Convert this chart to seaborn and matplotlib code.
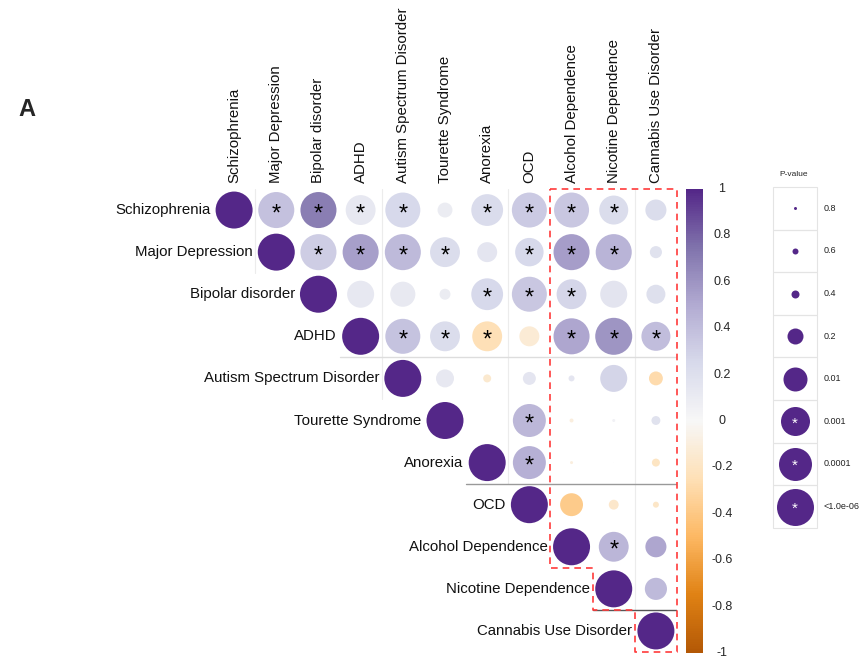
import numpy as np
import pandas as pd
import seaborn as sns
import matplotlib
matplotlib.use('Agg')
import matplotlib.pyplot as plt
from matplotlib.colors import LinearSegmentedColormap, Normalize
from matplotlib.cm import ScalarMappable
from matplotlib.patches import Rectangle

traits = ['Schizophrenia', 'Major Depression', 'Bipolar disorder', 'ADHD',
          'Autism Spectrum Disorder', 'Tourette Syndrome', 'Anorexia', 'OCD',
          'Alcohol Dependence', 'Nicotine Dependence', 'Cannabis Use Disorder']

nan = np.nan
# genetic correlations (upper triangle, row -> column)
corr_r = [
    [1, 0.38, 0.70, 0.13, 0.25, 0.10, 0.23, 0.33, 0.35, 0.22, 0.22],
    [nan, 1, 0.32, 0.55, 0.42, 0.22, 0.15, 0.25, 0.56, 0.45, 0.18],
    [nan, nan, 1, 0.13, 0.12, 0.10, 0.25, 0.35, 0.27, 0.16, 0.20],
    [nan, nan, nan, 1, 0.37, 0.22, -0.25, -0.13, 0.52, 0.60, 0.40],
    [nan, nan, nan, nan, 1, 0.13, -0.15, 0.15, 0.15, 0.28, -0.28],
    [nan, nan, nan, nan, nan, 1, 0.0, 0.43, -0.10, 0.05, 0.18],
    [nan, nan, nan, nan, nan, nan, 1, 0.47, -0.10, 0.0, -0.20],
    [nan, nan, nan, nan, nan, nan, nan, 1, -0.38, -0.17, -0.18],
    [nan, nan, nan, nan, nan, nan, nan, nan, 1, 0.44, 0.52],
    [nan, nan, nan, nan, nan, nan, nan, nan, nan, 1, 0.42],
    [nan, nan, nan, nan, nan, nan, nan, nan, nan, nan, 1],
]
# p-values of the correlations
corr_p = [
    [1e-8, 3e-6, 3e-6, 6e-4, 1e-5, 0.22, 2e-4, 1e-5, 1e-5, 1e-3, 0.03],
    [nan, 1e-8, 3e-6, 3e-6, 3e-6, 6e-4, 0.045, 1.3e-3, 3e-6, 3e-6, 0.28],
    [nan, nan, 1e-8, 0.0025, 0.006, 0.31, 2e-4, 1e-5, 6e-4, 0.0025, 0.065],
    [nan, nan, nan, 1e-8, 1e-5, 6e-4, 6e-4, 0.045, 3e-6, 1e-6, 1e-3],
    [nan, nan, nan, nan, 1e-8, 0.095, 0.4, 0.26, 0.6, 0.0025, 0.24],
    [nan, nan, nan, nan, nan, 1e-8, 1.0, 1e-4, 0.73, 0.8, 0.37],
    [nan, nan, nan, nan, nan, nan, 1e-8, 1e-4, 0.8, 0.97, 0.4],
    [nan, nan, nan, nan, nan, nan, nan, 1e-8, 0.015, 0.34, 0.6],
    [nan, nan, nan, nan, nan, nan, nan, nan, 1e-8, 6e-4, 0.03],
    [nan, nan, nan, nan, nan, nan, nan, nan, nan, 1e-8, 0.02],
    [nan, nan, nan, nan, nan, nan, nan, nan, nan, nan, 1e-8],
]
star_cut = 0.0015

legend_p = [0.8, 0.6, 0.4, 0.2, 0.01, 0.001, 0.0001, 1e-6]
legend_labels = ['0.8', '0.6', '0.4', '0.2', '0.01', '0.001', '0.0001', '<1.0e-06']
cbar_ticks = [1, 0.8, 0.6, 0.4, 0.2, 0, -0.2, -0.4, -0.6, -0.8, -1]

# size scale: -log10(p) -> circle diameter in pixels
scale_L = [0, 0.097, 0.222, 0.398, 0.699, 2, 3, 4, 6]
scale_d = [0, 3, 6, 8, 16, 24, 29, 33, 37]


def area(p):
    d = np.interp(-np.log10(p), scale_L, scale_d)
    return (d * 0.72) ** 2


cmap = LinearSegmentedColormap.from_list('puor', ['#b35806', '#e08214', '#fdb863', '#fee0b6', '#f7f7f7',
                                                  '#d8daeb', '#b2abd2', '#8073ac', '#542788'])

rows = []
for i in range(len(traits)):
    for j in range(i, len(traits)):
        rows.append({'row': i, 'col': j, 'r': corr_r[i][j], 'p': corr_p[i][j]})
df = pd.DataFrame(rows)
df['area'] = area(df['p'])

sns.set_style('white')
plt.rcParams['font.family'] = ['Liberation Sans', 'DejaVu Sans']

fig = plt.figure(figsize=(8.64, 6.61), dpi=100)
ax = fig.add_axes([213 / 864, 9 / 661, 464 / 864, 463 / 661])

amax = df['area'].max()
sns.scatterplot(data=df, x='col', y='row', hue='r', palette=cmap, hue_norm=(-1, 1),
                size='area', sizes=(0, amax), size_norm=(0, amax),
                linewidth=0, legend=False, ax=ax, zorder=3)

# significance stars
for _, c in df.iterrows():
    if c['row'] != c['col'] and c['p'] < star_cut:
        ax.text(c['col'], c['row'] + 0.1, '*', ha='center', va='center', fontsize=17, color='black', zorder=4)

# trait labels
for k, name in enumerate(traits):
    ax.text(k - 0.56, k, name, ha='right', va='center', fontsize=10.8, color='#111111')
    ax.text(k, -0.64, name, ha='center', va='bottom', rotation=90, fontsize=10.8, color='#111111', clip_on=False)

# cluster lines
faint = '#ececec'
ax.plot([0.5, 0.5], [-0.5, 1.5], color=faint, lw=0.8, zorder=1)
ax.plot([3.5, 3.5], [-0.5, 4.5], color=faint, lw=0.8, zorder=1)
ax.plot([6.5, 6.5], [-0.5, 6.5], color=faint, lw=0.8, zorder=1)
ax.plot([9.5, 9.5], [-0.5, 9.5], color=faint, lw=0.8, zorder=1)
ax.plot([2.5, 10.5], [3.5, 3.5], color='#dddddd', lw=1.0, zorder=1)
ax.plot([5.5, 10.5], [6.5, 6.5], color='#999999', lw=1.0, zorder=1)
ax.plot([8.5, 10.5], [9.5, 9.5], color='#555555', lw=1.0, zorder=1)

# red dashed outline around substance use block
bx = [7.5, 10.5, 10.5, 9.5, 9.5, 8.5, 8.5, 7.5, 7.5]
by = [-0.5, -0.5, 10.5, 10.5, 9.5, 9.5, 8.5, 8.5, -0.5]
ax.plot(bx, by, color='#ff3b3b', lw=1.2, ls=(0, (4, 3)), zorder=5, clip_on=False)

ax.set_xlim(-0.5, 10.5)
ax.set_ylim(10.5, -0.5)
ax.axis('off')

# colour bar
cax = fig.add_axes([686 / 864, 8 / 661, 17 / 864, 464 / 661])
cb = fig.colorbar(ScalarMappable(norm=Normalize(-1, 1), cmap=cmap), cax=cax)
cb.outline.set_visible(False)
cax.tick_params(length=0, labelright=False)
for t in cbar_ticks:
    cax.text(2.1, t, ('%g' % t), transform=cax.get_yaxis_transform(), ha='center', va='center', fontsize=9)

# p-value key, drawn in pixel units
lax = fig.add_axes([0, 0, 1, 1])
lax.set_xlim(0, 864)
lax.set_ylim(661, 0)
lax.axis('off')
lax.text(18, 110, 'A', fontsize=17, fontweight='bold', va='center', ha='left')
lax.text(794, 174, 'P-value', fontsize=6, ha='center', va='center')
box_h = 42.6
for k, (pv, lab) in enumerate(zip(legend_p, legend_labels)):
    y0 = 187 + k * box_h
    lax.add_patch(Rectangle((773, y0), 44, box_h, fill=False, edgecolor='#e4e4e4', lw=0.8))
    lax.scatter([795], [y0 + box_h / 2], s=area(pv), color='#542788', linewidths=0)
    if pv <= 0.001:
        lax.text(795, y0 + box_h / 2 + 2, '*', color='white', fontsize=11, ha='center', va='center')
    lax.text(824, y0 + box_h / 2, lab, fontsize=6.5, ha='left', va='center', color='#222222')

fig.savefig('out.png', dpi=100)
